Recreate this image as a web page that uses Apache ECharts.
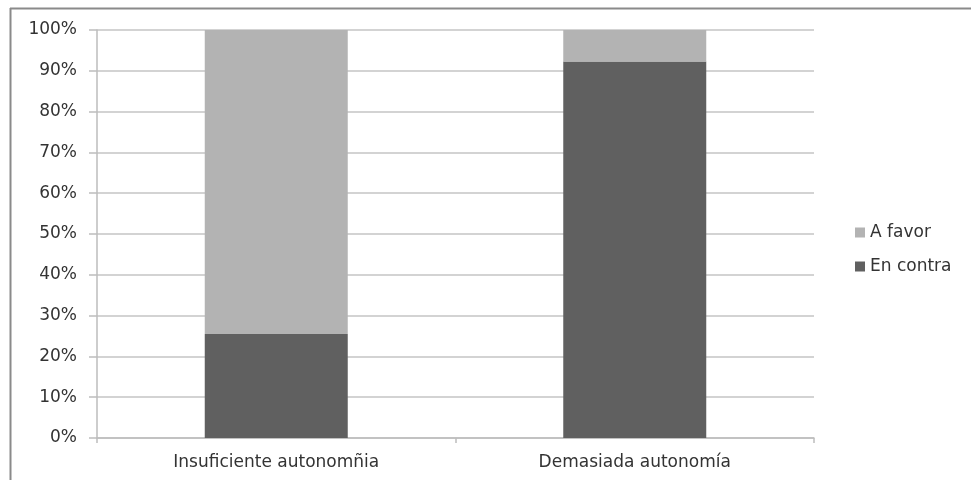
<!DOCTYPE html>
<html>
<head>
<meta charset="utf-8">
<script src="https://cdn.jsdelivr.net/npm/echarts@6/dist/echarts.min.js"></script>
<style>html,body{margin:0;padding:0;background:#fff;}#c{width:971px;height:480px;}</style>
</head>
<body>
<div id="c"></div>
<script>
const categories = ['Insuficiente autonomñia', 'Demasiada autonomía'];
const enContra = [25.5, 92.3];
const aFavor = [74.5, 7.7];
const yTicks = [0, 10, 20, 30, 40, 50, 60, 70, 80, 90, 100];

const chart = echarts.init(document.getElementById('c'), null, {renderer: 'canvas'});
const font = '"DejaVu Sans", sans-serif';
chart.setOption({
  animation: false,
  backgroundColor: '#ffffff',
  graphic: [
    {type: 'line', shape: {x1: 10, y1: 8.5, x2: 971, y2: 8.5},
     style: {stroke: '#8a8a8a', lineWidth: 2}, silent: true},
    {type: 'line', shape: {x1: 10.5, y1: 8, x2: 10.5, y2: 480},
     style: {stroke: '#8a8a8a', lineWidth: 2}, silent: true}
  ],
  grid: {left: 97, right: 157, top: 30, bottom: 42},
  legend: {
    orient: 'vertical', left: 850, top: 219,
    data: ['A favor', 'En contra'],
    icon: 'rect', itemWidth: 10, itemHeight: 10, itemGap: 17,
    textStyle: {fontFamily: font, fontSize: 17, color: '#333333'}
  },
  xAxis: {
    type: 'category', data: categories, boundaryGap: true,
    axisLine: {lineStyle: {color: '#bdbdbd', width: 1.5}},
    axisTick: {show: true, alignWithLabel: false, length: 5, lineStyle: {color: '#bdbdbd', width: 1.5}},
    axisLabel: {fontFamily: font, fontSize: 17, color: '#333333', margin: 16}
  },
  yAxis: {
    type: 'value', min: yTicks[0], max: yTicks[yTicks.length - 1], interval: 10,
    axisLine: {show: true, lineStyle: {color: '#bdbdbd', width: 1.5}},
    axisTick: {show: true, length: 8, lineStyle: {color: '#bdbdbd', width: 1.5}},
    splitLine: {lineStyle: {color: '#c4c4c4', width: 1.5}},
    axisLabel: {formatter: '{value}%', fontFamily: font, fontSize: 17, color: '#333333', margin: 20}
  },
  series: [
    {name: 'En contra', type: 'bar', stack: 's', data: enContra, barWidth: 143,
     itemStyle: {color: '#606060'}},
    {name: 'A favor', type: 'bar', stack: 's', data: aFavor, barWidth: 143,
     itemStyle: {color: '#b3b3b3'}}
  ]
});
</script>
</body>
</html>
